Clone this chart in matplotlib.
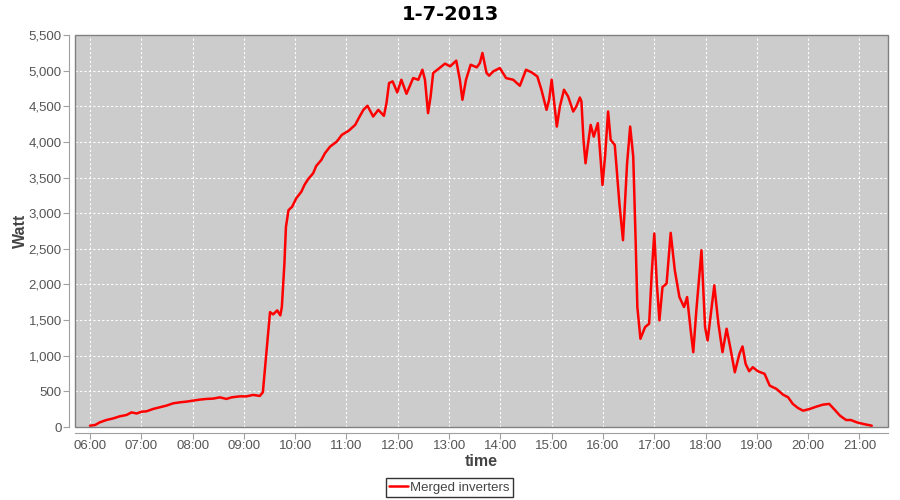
import numpy as np
import matplotlib.pyplot as plt
from matplotlib import rcParams
from matplotlib.patches import Rectangle
from matplotlib.ticker import FuncFormatter, MultipleLocator

rcParams['font.family'] = ['Liberation Sans', 'DejaVu Sans']

# time of day in hours, power in watt
hours = [6.00, 6.10, 6.19, 6.32, 6.45, 6.58, 6.71, 6.81, 6.91, 7.01, 7.10, 7.23, 7.36,
         7.49, 7.62, 7.75, 7.88, 8.01, 8.14, 8.27, 8.40, 8.53, 8.66, 8.76, 8.92, 9.05,
         9.18, 9.31, 9.37, 9.41, 9.46, 9.51, 9.57, 9.65, 9.71, 9.74, 9.79, 9.82, 9.87,
         9.94, 10.02, 10.12, 10.18, 10.25, 10.35, 10.41, 10.51, 10.58, 10.68, 10.81,
         10.91, 11.04, 11.17, 11.25, 11.33, 11.41, 11.52, 11.62, 11.73, 11.78, 11.83,
         11.90, 11.99, 12.07, 12.17, 12.30, 12.40, 12.48, 12.53, 12.59, 12.64, 12.69,
         12.79, 12.92, 13.02, 13.14, 13.21, 13.26, 13.33, 13.42, 13.54, 13.60, 13.65,
         13.73, 13.78, 13.86, 13.99, 14.11, 14.25, 14.38, 14.50, 14.61, 14.72, 14.80,
         14.90, 14.95, 15.00, 15.05, 15.10, 15.16, 15.24, 15.32, 15.42, 15.48, 15.55,
         15.58, 15.62, 15.66, 15.71, 15.76, 15.82, 15.90, 15.95, 15.99, 16.04, 16.10,
         16.15, 16.23, 16.32, 16.39, 16.47, 16.53, 16.59, 16.64, 16.67, 16.73, 16.82,
         16.90, 16.95, 17.00, 17.05, 17.10, 17.16, 17.24, 17.32, 17.40, 17.49, 17.58,
         17.64, 17.71, 17.76, 17.82, 17.92, 17.99, 18.04, 18.17, 18.25, 18.33, 18.41,
         18.48, 18.57, 18.66, 18.72, 18.78, 18.85, 18.92, 19.02, 19.15, 19.25, 19.38,
         19.51, 19.61, 19.70, 19.80, 19.90, 20.03, 20.16, 20.29, 20.41, 20.52, 20.62,
         20.74, 20.83, 20.95, 21.08, 21.24]
watt = [18, 28, 65, 98, 120, 150, 168, 205, 190, 215, 220, 253, 276,
         300, 332, 346, 356, 370, 384, 394, 398, 416, 394, 416, 430, 430,
         450, 436, 487, 816, 1214, 1612, 1580, 1636, 1566, 1683, 2293, 2808, 3043,
         3090, 3208, 3301, 3395, 3475, 3560, 3662, 3747, 3841, 3934, 4004,
         4099, 4155, 4239, 4348, 4450, 4507, 4356, 4450, 4366, 4545, 4826,
         4849, 4694, 4872, 4675, 4896, 4872, 5013, 4872, 4404, 4638, 4967,
         5023, 5098, 5060, 5140, 4872, 4591, 4872, 5083, 5046, 5107, 5248,
         4967, 4929, 4989, 5037, 4896, 4872, 4788, 5013, 4975, 4919, 4732,
         4450, 4591, 4872, 4545, 4215, 4497, 4732, 4638, 4426, 4497, 4623,
         4567, 4028, 3700, 3981, 4239, 4074, 4263, 3793, 3395, 3793, 4426,
         4028, 3958, 3137, 2621, 3700, 4215, 3793, 2527, 1683, 1238, 1401,
         1449, 2153, 2715, 2012, 1496, 1964, 2012, 2724, 2199, 1823, 1683,
         1823, 1355, 1050, 1636, 2480, 1401, 1214, 1988, 1449, 1050, 1379,
         1120, 768, 1027, 1130, 886, 782, 839, 782, 746, 581, 535,
         454, 416, 324, 267, 229, 253, 286, 314, 324, 239, 159,
         98, 98, 65, 42, 18]

hour_ticks = list(range(6, 22))

fig = plt.figure(figsize=(9, 5), dpi=100)
ax = fig.add_axes([75 / 900, 1 - 427 / 500, 813 / 900, 392 / 500])
ax.set_facecolor('#cccccc')

ax.plot(hours, watt, color='#ff0000', linewidth=1.8, solid_joinstyle='round',
        solid_capstyle='round')

ax.set_xlim(5.708, 21.556)
ax.set_ylim(0, 5500)
ax.set_xticks(hour_ticks)
ax.xaxis.set_major_formatter(FuncFormatter(lambda v, p: '%02d:00' % int(round(v))))
ax.yaxis.set_major_locator(MultipleLocator(500))
ax.yaxis.set_major_formatter(FuncFormatter(lambda v, p: '{:,.0f}'.format(v)))

ax.grid(True, color='white', linestyle=(0, (2, 2)), linewidth=0.8)
ax.set_axisbelow(True)

# plot frame plus offset axis lines (JFreeChart look)
ax.add_patch(Rectangle((0, 0), 1, 1, transform=ax.transAxes, fill=False,
                       edgecolor='#808080', linewidth=1, zorder=5, clip_on=False))
for side in ['top', 'right']:
    ax.spines[side].set_visible(False)
for side in ['left', 'bottom']:
    ax.spines[side].set_position(('outward', 4))
    ax.spines[side].set_color('#a0a0a0')
ax.tick_params(colors='#a0a0a0', length=4, pad=1.5, labelcolor='#555555', labelsize=9.5)

ax.set_xlabel('time', fontsize=11.5, fontweight='bold', color='#444444')
ax.set_ylabel('Watt', fontsize=11.5, fontweight='bold', color='#444444')
ax.xaxis.set_label_coords(0.5, -0.069)
ax.yaxis.set_label_coords(-0.058, 0.5)
fig.text(450 / 900, 1 - 14 / 500, '1-7-2013', fontsize=14, fontweight='bold',
         family='DejaVu Sans', ha='center', va='center')

leg = fig.legend(['Merged inverters'], loc='center', bbox_to_anchor=(449.5 / 900, 1 - 487.5 / 500),
                 fontsize=9.5, frameon=True, fancybox=False, handlelength=1.4,
                 handletextpad=0.2, borderpad=0.25, borderaxespad=0)
leg.get_frame().set_edgecolor('black')
leg.get_frame().set_linewidth(1)
for t in leg.get_texts():
    t.set_color('#444444')

fig.savefig('out.png', dpi=100)
